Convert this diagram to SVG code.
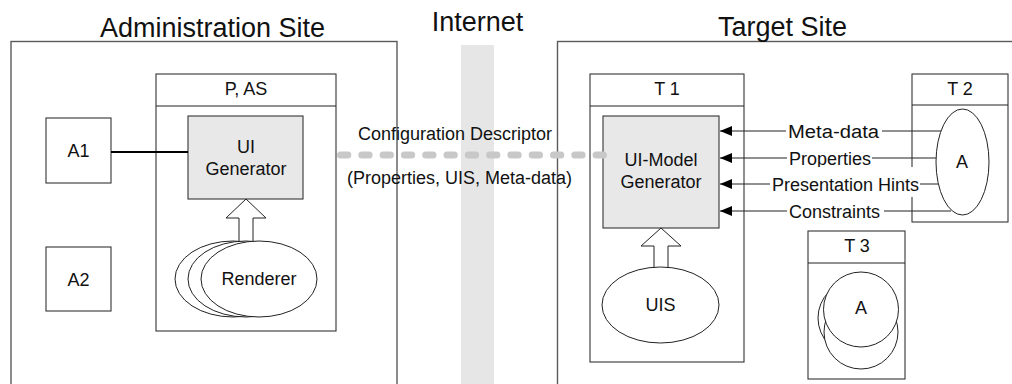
<svg xmlns="http://www.w3.org/2000/svg" width="1012" height="384" viewBox="0 0 1012 384">
<defs>
<style>
text{font-family:"Liberation Sans",Arial,sans-serif;fill:#111;}
.t18{font-size:18px;text-anchor:middle;}
.lbl{font-size:18px;}
.title{font-size:27px;text-anchor:middle;}
.site{fill:#fff;stroke:#5a5a5a;stroke-width:1.4;}
.box{fill:#fff;stroke:#333;stroke-width:1.1;}
.gen{fill:#e8e8e8;stroke:#333;stroke-width:1.1;}
.ell{fill:#fff;stroke:#222;stroke-width:1;}
.ln{stroke:#222;stroke-width:1;fill:none;}
.bg{fill:#fff;stroke:none;}
</style>
<marker id="ah" viewBox="0 0 12 10" refX="12" refY="5" markerWidth="12" markerHeight="10" markerUnits="userSpaceOnUse" orient="auto">
<path d="M0,0 L12,5 L0,10 Z" fill="#000"/>
</marker>
</defs>
<rect width="1012" height="384" fill="#fff"/>

<g id="admin-site">
<rect class="site" x="11" y="41.5" width="386" height="360"/>
<text class="title" x="212.5" y="36.5" textLength="225" lengthAdjust="spacingAndGlyphs">Administration Site</text>
</g>

<g id="internet">
<rect x="461" y="45" width="33" height="345" fill="#e6e6e6"/>
<text class="title" x="477.5" y="31">Internet</text>
</g>

<g id="target-site">
<rect class="site" x="557.5" y="41.5" width="460" height="360"/>
<text class="title" x="782.5" y="36">Target Site</text>
</g>

<g id="p-as">
<rect class="box" x="156" y="74" width="180" height="257"/>
<line class="ln" x1="156" y1="106" x2="336" y2="106"/>
<text class="t18" x="246" y="95">P, AS</text>
</g>

<g id="a1">
<rect class="box" x="46" y="118" width="65" height="65"/>
<text class="t18" x="78.5" y="157">A1</text>
</g>

<g id="a2">
<rect class="box" x="46" y="247" width="65" height="64"/>
<text class="t18" x="78.5" y="285.5">A2</text>
</g>

<g id="ui-generator">
<rect class="gen" x="188" y="116" width="115" height="83"/>
<text class="t18" x="246" y="152.5">UI</text>
<text class="t18" x="246" y="174.5">Generator</text>
</g>

<g id="t1">
<rect class="box" x="590" y="74" width="154" height="288"/>
<line class="ln" x1="590" y1="106" x2="744" y2="106"/>
<text class="t18" x="667" y="95">T 1</text>
</g>

<g id="ui-model-generator">
<rect class="gen" x="603" y="116" width="116" height="112"/>
<text class="t18" x="661" y="166">UI-Model</text>
<text class="t18" x="661" y="187.5">Generator</text>
</g>

<g id="t2">
<rect class="box" x="912" y="74" width="96" height="148"/>
<line class="ln" x1="912" y1="105" x2="1008" y2="105"/>
<text class="t18" x="960" y="95">T 2</text>
</g>

<g id="t3">
<rect class="box" x="808" y="231" width="97" height="148"/>
<line class="ln" x1="808" y1="263" x2="905" y2="263"/>
<text class="t18" x="857" y="252">T 3</text>
</g>

<g id="connectors">
<line x1="111" y1="152" x2="188" y2="152" stroke="#000" stroke-width="2"/>
<polygon class="ell" points="246,199 266,218 253,218 253,244 239,244 239,218 226,218"/>
<polygon class="ell" points="661,228 681,246 668,246 668,270 654,270 654,246 641,246"/>
<line x1="340.5" y1="155" x2="604" y2="155" stroke="#c8c8c8" stroke-width="7" stroke-linecap="round" stroke-dasharray="7.3 14"/>
<line class="ln" x1="941" y1="131" x2="720" y2="131" marker-end="url(#ah)"/>
<line class="ln" x1="936.5" y1="158" x2="720" y2="158" marker-end="url(#ah)"/>
<line class="ln" x1="938" y1="184" x2="720" y2="184" marker-end="url(#ah)"/>
<line class="ln" x1="951" y1="211" x2="720" y2="211" marker-end="url(#ah)"/>
<text class="t18" x="455" y="140">Configuration Descriptor</text>
<text class="t18" x="459.5" y="184">(Properties, UIS, Meta-data)</text>
<rect class="bg" x="786" y="122" width="96" height="20"/>
<text class="lbl" x="788" y="137.5" textLength="91" lengthAdjust="spacingAndGlyphs">Meta-data</text>
<rect class="bg" x="787" y="149" width="85" height="20"/>
<text class="lbl" x="789" y="164.5">Properties</text>
<rect class="bg" x="770" y="167" width="150" height="30"/>
<text class="lbl" x="772" y="190.5">Presentation Hints</text>
<rect class="bg" x="787" y="202" width="97" height="20"/>
<text class="lbl" x="789" y="217.5">Constraints</text>
</g>

<g id="renderer">
<ellipse class="ell" cx="233" cy="279" rx="58" ry="38"/>
<ellipse class="ell" cx="246" cy="279" rx="58" ry="38"/>
<ellipse class="ell" cx="259" cy="279" rx="58" ry="38"/>
<text class="t18" x="259" y="285">Renderer</text>
</g>

<g id="uis">
<ellipse class="ell" cx="660.5" cy="305" rx="58.5" ry="38"/>
<text class="t18" x="660.5" y="311">UIS</text>
</g>

<g id="t2-a">
<ellipse class="ell" cx="962.5" cy="162" rx="26.5" ry="53"/>
<text class="t18" x="962" y="168">A</text>
</g>

<g id="t3-a">
<circle class="ell" cx="855" cy="318" r="37"/>
<circle class="ell" cx="861" cy="332" r="37"/>
<circle class="ell" cx="861" cy="309.5" r="37.5"/>
<text class="t18" x="861" y="314">A</text>
</g>
</svg>
